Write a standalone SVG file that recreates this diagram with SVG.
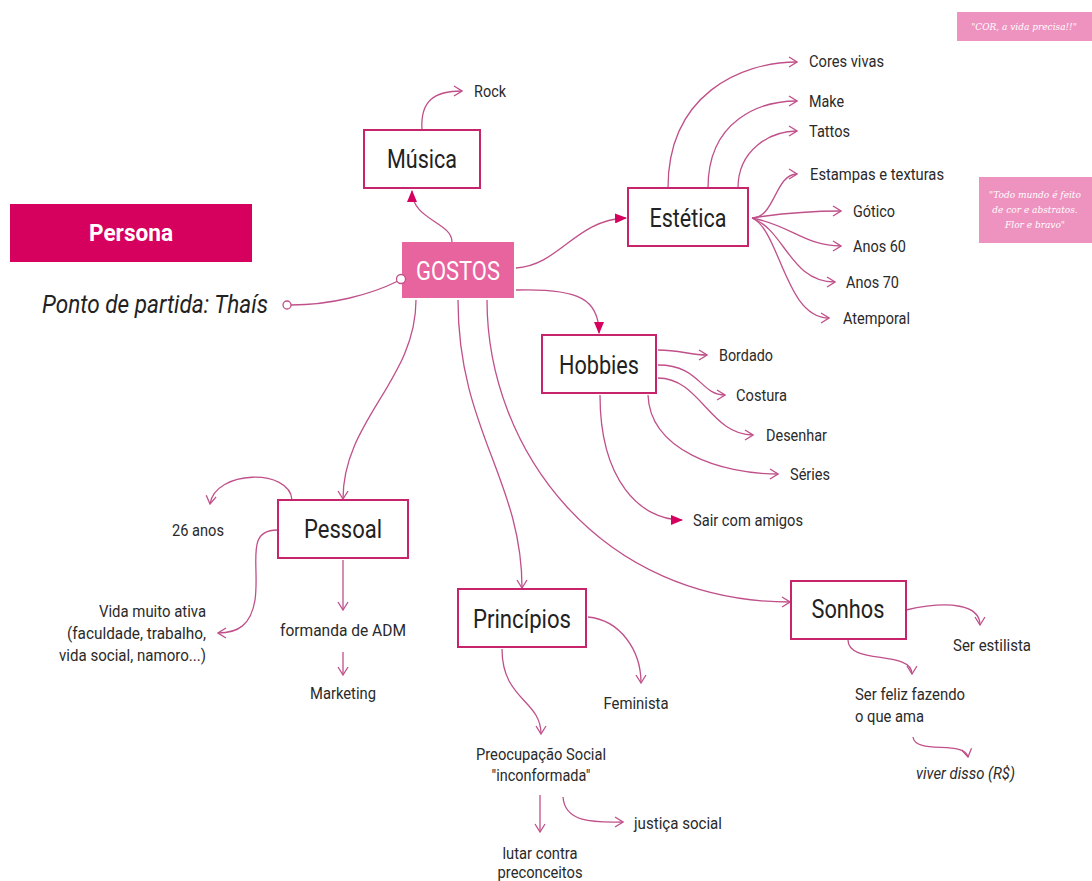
<svg xmlns="http://www.w3.org/2000/svg" width="1092" height="881" viewBox="0 0 1092 881">
<style>
.t{font-family:Roboto,"Liberation Sans",sans-serif;font-size:17px;fill:#2a2a2a}
.bt{font-family:Roboto,"Liberation Sans",sans-serif;font-size:26px;fill:#222;text-anchor:middle}
.box{fill:#fff;stroke:#c8246c;stroke-width:2}
.c{fill:none;stroke:#c0508a;stroke-width:1.3}
.o{marker-end:url(#open)}
.f{marker-end:url(#fill)}
.note{font-family:"DejaVu Serif",serif;font-style:italic;font-size:9px;fill:#fff;text-anchor:middle}
</style>
<defs>
<marker id="open" viewBox="0 0 10 12" refX="9" refY="6" markerWidth="10" markerHeight="12" markerUnits="userSpaceOnUse" orient="auto">
<path d="M1,1 L9,6 L1,11" fill="none" stroke="#c0508a" stroke-width="1.3"/>
</marker>
<marker id="fill" viewBox="0 0 12 10" refX="11" refY="5" markerWidth="12" markerHeight="10" markerUnits="userSpaceOnUse" orient="auto">
<path d="M0,0 L12,5 L0,10 z" fill="#d6005f"/>
</marker>
</defs>
<rect width="1092" height="881" fill="#fff"/>

<g id="connectors">
<path class="c" d="M291,305 C330,305 370,295 398,281"/>
<path class="c f" d="M452,242 C452,222 412,220 412,191"/>
<path class="c o" d="M422,130 C420,100 435,91 462,91"/>
<path class="c f" d="M516,268 C560,265 575,220 626,218"/>
<path class="c o" d="M668,188 C668,95 740,62 797,62"/>
<path class="c o" d="M708,188 C708,120 760,101 797,101"/>
<path class="c o" d="M738,188 C738,150 770,131 797,131"/>
<path class="c o" d="M752,218 C775,218 775,174 797,174"/>
<path class="c o" d="M752,218 C790,212 820,211 841,211"/>
<path class="c o" d="M752,218 C790,225 805,246 841,246"/>
<path class="c o" d="M752,218 C785,230 790,282 835,282"/>
<path class="c o" d="M752,218 C780,230 785,318 829,318"/>
<path class="c f" d="M516,290 C580,288 599,300 599,333"/>
<path class="c o" d="M658,350 C680,350 690,355 707,355"/>
<path class="c o" d="M658,365 C700,365 700,395 725,395"/>
<path class="c o" d="M658,378 C700,378 710,435 753,435"/>
<path class="c o" d="M648,395 C650,450 720,474 778,474"/>
<path class="c f" d="M600,395 C600,480 640,520 682,520"/>
<path class="c o" d="M416,300 C416,380 343,420 343,499"/>
<path class="c o" d="M458,300 C458,430 522,480 522,588"/>
<path class="c o" d="M487,300 C487,450 600,602 790,602"/>
<path class="c o" d="M292,500 C290,468 215,470 210,504"/>
<path class="c o" d="M277,530 C245,530 260,565 255,600 C251,625 238,633 218,633"/>
<path class="c o" d="M343,560 L343,610"/>
<path class="c o" d="M343,652 L343,675"/>
<path class="c o" d="M588,617 C620,620 641,650 641,683"/>
<path class="c o" d="M502,649 C502,700 541,700 541,734"/>
<path class="c o" d="M540,795 L540,832"/>
<path class="c o" d="M563,797 C565,825 600,822 623,822"/>
<path class="c o" d="M906,610 C950,600 980,605 980,625"/>
<path class="c o" d="M848,640 C848,665 912,650 912,674"/>
<path class="c o" d="M913,737 C915,755 965,740 968,757"/>
<circle cx="287" cy="305" r="4" fill="#fff" stroke="#c0508a" stroke-width="1.3"/>
</g>

<g id="persona">
<rect x="10" y="204" width="242" height="58" fill="#d6005f"/>
<text x="131" y="241" font-family="Roboto,'Liberation Sans',sans-serif" font-weight="bold" font-size="23" fill="#fff" text-anchor="middle" textLength="84" lengthAdjust="spacingAndGlyphs">Persona</text>
</g>
<g id="ponto">
<text x="42" y="313" font-family="Roboto,'Liberation Sans',sans-serif" font-style="italic" font-size="25" fill="#222" textLength="226" lengthAdjust="spacingAndGlyphs">Ponto de partida: Thaís</text>
</g>
<g id="gostos">
<rect x="402" y="242" width="112" height="56" fill="#e8649e"/>
<text x="458" y="280" font-family="Roboto,'Liberation Sans',sans-serif" font-size="25" fill="#fff" text-anchor="middle" textLength="84" lengthAdjust="spacingAndGlyphs">GOSTOS</text>
<circle cx="401" cy="279" r="4.5" fill="#fff" stroke="#c0508a" stroke-width="1.3"/>
</g>
<g id="musica">
<rect class="box" x="364" y="130" width="116" height="58"/>
<text class="bt" x="422" y="168" textLength="70" lengthAdjust="spacingAndGlyphs">Música</text>
</g>
<g id="rock"><text class="t" x="474" y="97" textLength="32" lengthAdjust="spacingAndGlyphs">Rock</text></g>
<g id="estetica">
<rect class="box" x="628" y="188" width="120" height="58"/>
<text class="bt" x="688" y="227" textLength="77" lengthAdjust="spacingAndGlyphs">Estética</text>
</g>
<g id="cores"><text class="t" x="809" y="67" textLength="75" lengthAdjust="spacingAndGlyphs">Cores vivas</text></g>
<g id="make"><text class="t" x="809" y="107" textLength="35" lengthAdjust="spacingAndGlyphs">Make</text></g>
<g id="tattos"><text class="t" x="809" y="137" textLength="41" lengthAdjust="spacingAndGlyphs">Tattos</text></g>
<g id="estampas"><text class="t" x="810" y="180" textLength="134" lengthAdjust="spacingAndGlyphs">Estampas e texturas</text></g>
<g id="gotico"><text class="t" x="853" y="217" textLength="42" lengthAdjust="spacingAndGlyphs">Gótico</text></g>
<g id="anos60"><text class="t" x="853" y="252" textLength="53" lengthAdjust="spacingAndGlyphs">Anos 60</text></g>
<g id="anos70"><text class="t" x="846" y="288" textLength="53" lengthAdjust="spacingAndGlyphs">Anos 70</text></g>
<g id="atemporal"><text class="t" x="843" y="324" textLength="67" lengthAdjust="spacingAndGlyphs">Atemporal</text></g>
<g id="hobbies">
<rect class="box" x="542" y="335" width="114" height="58"/>
<text class="bt" x="599" y="374" textLength="80" lengthAdjust="spacingAndGlyphs">Hobbies</text>
</g>
<g id="bordado"><text class="t" x="719" y="361" textLength="54" lengthAdjust="spacingAndGlyphs">Bordado</text></g>
<g id="costura"><text class="t" x="736" y="401" textLength="51" lengthAdjust="spacingAndGlyphs">Costura</text></g>
<g id="desenhar"><text class="t" x="766" y="441" textLength="61" lengthAdjust="spacingAndGlyphs">Desenhar</text></g>
<g id="series"><text class="t" x="790" y="480" textLength="40" lengthAdjust="spacingAndGlyphs">Séries</text></g>
<g id="sair"><text class="t" x="693" y="526" textLength="110" lengthAdjust="spacingAndGlyphs">Sair com amigos</text></g>
<g id="pessoal">
<rect class="box" x="278" y="500" width="130" height="58"/>
<text class="bt" x="343" y="538" textLength="78" lengthAdjust="spacingAndGlyphs">Pessoal</text>
</g>
<g id="idade"><text class="t" x="172" y="536" textLength="52" lengthAdjust="spacingAndGlyphs">26 anos</text></g>
<g id="vida">
<text class="t" x="206" y="617" text-anchor="end" textLength="107" lengthAdjust="spacingAndGlyphs">Vida muito ativa</text>
<text class="t" x="206" y="639" text-anchor="end" textLength="139" lengthAdjust="spacingAndGlyphs">(faculdade, trabalho,</text>
<text class="t" x="206" y="661" text-anchor="end" textLength="147" lengthAdjust="spacingAndGlyphs">vida social, namoro...)</text>
</g>
<g id="formanda"><text class="t" x="343" y="636" text-anchor="middle" textLength="126" lengthAdjust="spacingAndGlyphs">formanda de ADM</text></g>
<g id="marketing"><text class="t" x="343" y="699" text-anchor="middle" textLength="66" lengthAdjust="spacingAndGlyphs">Marketing</text></g>
<g id="principios">
<rect class="box" x="458" y="589" width="128" height="58"/>
<text class="bt" x="522" y="628" textLength="98" lengthAdjust="spacingAndGlyphs">Princípios</text>
</g>
<g id="feminista"><text class="t" x="636" y="709" text-anchor="middle" textLength="65" lengthAdjust="spacingAndGlyphs">Feminista</text></g>
<g id="preocupacao">
<text class="t" x="541" y="760" text-anchor="middle" textLength="130" lengthAdjust="spacingAndGlyphs">Preocupação Social</text>
<text class="t" x="541" y="781" text-anchor="middle" textLength="99" lengthAdjust="spacingAndGlyphs">"inconformada"</text>
</g>
<g id="lutar">
<text class="t" x="540" y="859" text-anchor="middle" textLength="75" lengthAdjust="spacingAndGlyphs">lutar contra</text>
<text class="t" x="540" y="878" text-anchor="middle" textLength="85" lengthAdjust="spacingAndGlyphs">preconceitos</text>
</g>
<g id="justica"><text class="t" x="634" y="829" textLength="88" lengthAdjust="spacingAndGlyphs">justiça social</text></g>
<g id="sonhos">
<rect class="box" x="791" y="581" width="115" height="58"/>
<text class="bt" x="848" y="618" textLength="73" lengthAdjust="spacingAndGlyphs">Sonhos</text>
</g>
<g id="estilista"><text class="t" x="953" y="651" textLength="78" lengthAdjust="spacingAndGlyphs">Ser estilista</text></g>
<g id="feliz">
<text class="t" x="855" y="700" textLength="110" lengthAdjust="spacingAndGlyphs">Ser feliz fazendo</text>
<text class="t" x="855" y="722" textLength="69" lengthAdjust="spacingAndGlyphs">o que ama</text>
</g>
<g id="viver"><text class="t" x="916" y="779" font-style="italic" textLength="99" lengthAdjust="spacingAndGlyphs">viver disso (R$)</text></g>
<g id="nota1">
<rect x="957" y="12" width="135" height="29" fill="#ee93c0"/>
<text class="note" x="1024" y="30">"COR, a vida precisa!!"</text>
</g>
<g id="nota2">
<rect x="979" y="177" width="113" height="66" fill="#ee93c0"/>
<text class="note" x="1035" y="198">"Todo mundo é feito</text>
<text class="note" x="1035" y="213">de cor e abstratos.</text>
<text class="note" x="1035" y="228">Flor e bravo"</text>
</g>
</svg>
